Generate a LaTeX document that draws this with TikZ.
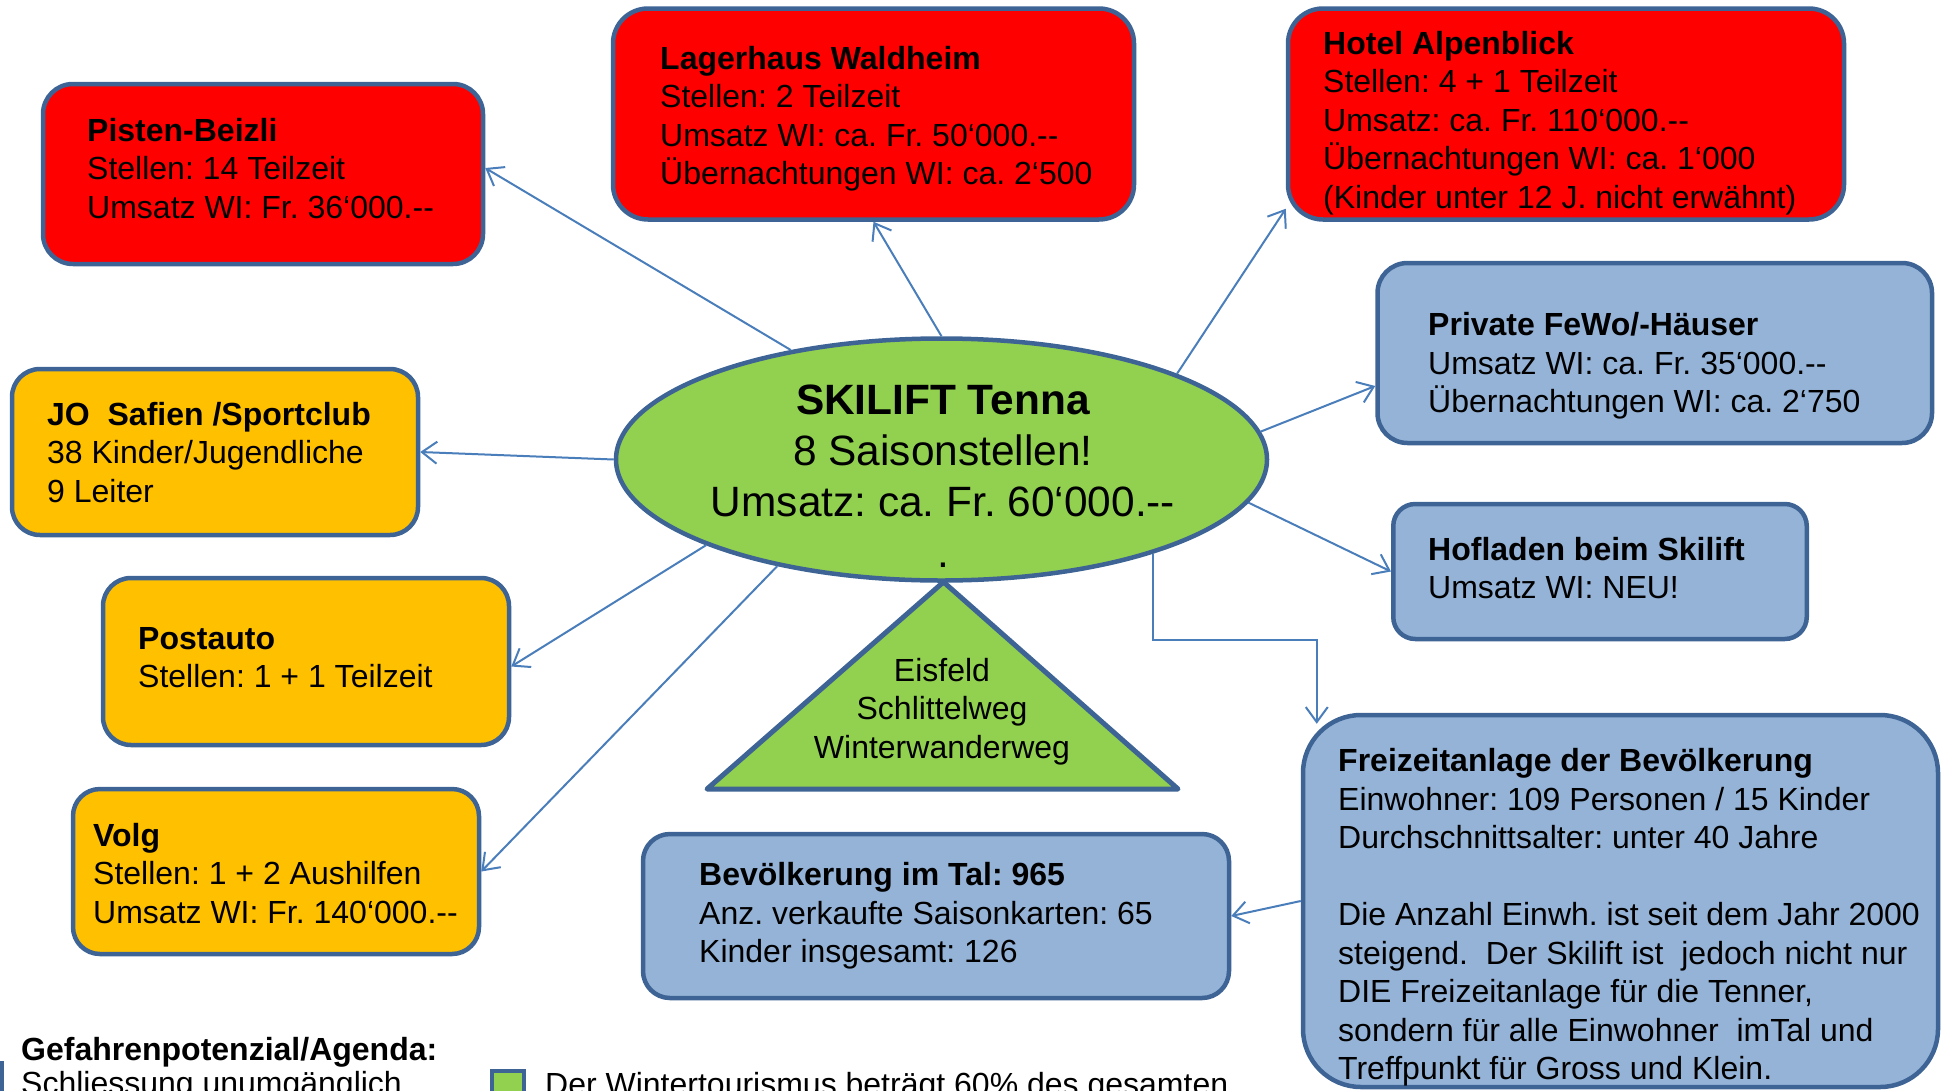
\documentclass[tikz,border=0pt]{standalone}
\usepackage{fontspec}
\setmainfont{Liberation Sans}
\usetikzlibrary{shapes.geometric,arrows.meta,calc}
\definecolor{bred}{HTML}{FF0000}
\definecolor{borange}{HTML}{FFC000}
\definecolor{bblue}{HTML}{95B3D7}
\definecolor{bgreen}{HTML}{92D050}
\definecolor{bline}{HTML}{3D6495}
\definecolor{arrcol}{HTML}{4A7EBB}
\frenchspacing
\begin{document}
\begin{tikzpicture}[x=1pt,y=-1pt,
  mybox/.style={draw=bline, line width=4.5pt, inner sep=0pt},
  txt/.style={font=\fontsize{32}{38.5}\selectfont, align=left, anchor=north west, inner sep=0pt, text=black},
  ctxt/.style={font=\fontsize{32}{38.5}\selectfont, align=center, anchor=north, inner sep=0pt, text=black},
  arr/.style={draw=arrcol, line width=2pt, -{Straight Barb[length=15pt,width=22pt]}}]
\useasboundingbox (0,0) rectangle (1946,1090);
\clip (0,0) rectangle (1946,1090);

% red boxes
\node[mybox, fill=bred, rounded corners=30pt, minimum width=440pt, minimum height=180pt] (pisten) at (263,174) {};
\node[txt] (pistenT) at (87,117.7) {\textbf{Pisten-Beizli}\\Stellen: 14 Teilzeit\\Umsatz WI: Fr. 36‘000.-{}-};

\node[mybox, fill=bred, rounded corners=35pt, minimum width=521pt, minimum height=211pt] (lager) at (873.5,114) {};
\node[txt] (lagerT) at (660,45.7) {\textbf{Lagerhaus Waldheim}\\Stellen: 2 Teilzeit\\Umsatz WI: ca. Fr. 50‘000.-{}-\\Übernachtungen WI: ca. 2‘500};

\node[mybox, fill=bred, rounded corners=35pt, minimum width=556pt, minimum height=211pt] (hotel) at (1566,114) {};
\node[txt] (hotelT) at (1323,30.8) {\textbf{Hotel Alpenblick}\\Stellen: 4 + 1 Teilzeit\\Umsatz: ca. Fr. 110‘000.-{}-\\Übernachtungen WI: ca. 1‘000\\(Kinder unter 12 J. nicht erwähnt)};

% blue boxes
\node[mybox, fill=bblue, rounded corners=30pt, minimum width=554.5pt, minimum height=180pt] (priv) at (1654.75,353) {};
\node[txt] (privT) at (1428,312.5) {\textbf{Private FeWo/-Häuser}\\Umsatz WI: ca. Fr. 35‘000.-{}-\\Übernachtungen WI: ca. 2‘750};

\node[mybox, fill=bblue, rounded corners=22pt, minimum width=413.5pt, minimum height=135pt] (hof) at (1600,571.5) {};
\node[txt] (hofT) at (1428,537) {\textbf{Hofladen beim Skilift}\\Umsatz WI: NEU!};

\node[mybox, fill=bblue, rounded corners=58pt, minimum width=635pt, minimum height=372pt] (freiz) at (1620.5,901) {};
\node[txt] (freizT) at (1338,748.5) {\textbf{Freizeitanlage der Bevölkerung}\\Einwohner: 109 Personen / 15 Kinder\\Durchschnittsalter: unter 40 Jahre\\[38.5pt]Die Anzahl Einwh. ist seit dem Jahr 2000\\steigend.~ Der Skilift ist~ jedoch nicht nur\\DIE Freizeitanlage für die Tenner,\\sondern für alle Einwohner~ imTal und\\Treffpunkt für Gross und Klein.};

\node[mybox, fill=bblue, rounded corners=27pt, minimum width=586pt, minimum height=164pt] (bev) at (936,916) {};
\node[txt] (bevT) at (699,862.5) {\textbf{Bevölkerung im Tal: 965}\\Anz. verkaufte Saisonkarten: 65\\Kinder insgesamt: 126};

% orange boxes
\node[mybox, fill=borange, rounded corners=28pt, minimum width=406pt, minimum height=166pt] (jo) at (215,452) {};
\node[txt] (joT) at (47,402) {\textbf{JO~ Safien /Sportclub}\\38 Kinder/Jugendliche\\9 Leiter};

\node[mybox, fill=borange, rounded corners=28pt, minimum width=406pt, minimum height=167pt] (post) at (306,661.5) {};
\node[txt] (postT) at (138,627) {\textbf{Postauto}\\Stellen: 1 + 1 Teilzeit};

\node[mybox, fill=borange, rounded corners=27pt, minimum width=406pt, minimum height=165pt] (volg) at (276,871.5) {};
\node[txt] (volgT) at (93,823) {\textbf{Volg}\\Stellen: 1 + 2 Aushilfen\\Umsatz WI: Fr. 140‘000.-{}-};

% centre ellipse
\node[draw=bline, line width=4.5pt, fill=bgreen, ellipse, minimum width=651pt, minimum height=242pt, inner sep=0pt] (ell) at (941.5,459.5) {};
\node[font=\fontsize{42.4}{51}\selectfont, align=center, anchor=north, inner sep=0pt] (ellT) at (943,385) {\textbf{SKILIFT Tenna}\\8 Saisonstellen!\\Umsatz: ca. Fr. 60‘000.-{}-\\.};

% triangle
\draw[draw=bline, line width=5pt, fill=bgreen, line join=round] (943.5,582) -- (707,789) -- (1178,789) -- cycle;
\node[ctxt] (tri) at (942,658) {Eisfeld\\Schlittelweg\\Winterwanderweg};

% connectors
\coordinate (fzIn) at ($(freiz.north west)+(16,11)$);
\draw[arr] (ell.144.7) -- ($(pisten.east)+(0,-6)$);
\draw[arr] (ell.north) -- (lager.south);
\draw[arr] (ell.20.5) -- ($(hotel.south west)+(0,-13)$);
\draw[arr] (ell.5.5) -- ($(priv.west)+(0,33)$);
\draw[arr] (ell.-8.5) -- (hof.west);
\draw[arr] (ell.-24.2) -- ++(0,86) -| (fzIn);
\draw[arr] (freiz.west) -- (bev.east);
\draw[arr] (ell.west) -- (jo.east);
\draw[arr] (ell.-160.1) -- ($(post.east)+(0,5)$);
\draw[arr] (ell.-147.3) -- (volg.east);

% legend
\node[txt] (legT) at (21,1037) {\textbf{Gefahrenpotenzial/Agenda:}};
\node[mybox, fill=bred, minimum width=32pt, minimum height=40pt] (sq1) at (-14,1083) {};
\node[txt] (leg1) at (21,1071) {Schliessung unumgänglich};
\node[mybox, line width=4pt, fill=bgreen, minimum width=32pt, minimum height=40pt] (sq2) at (508,1091) {};
\node[txt] (leg2) at (545,1072) {Der Wintertourismus beträgt 60\% des gesamten};
\end{tikzpicture}
\end{document}
